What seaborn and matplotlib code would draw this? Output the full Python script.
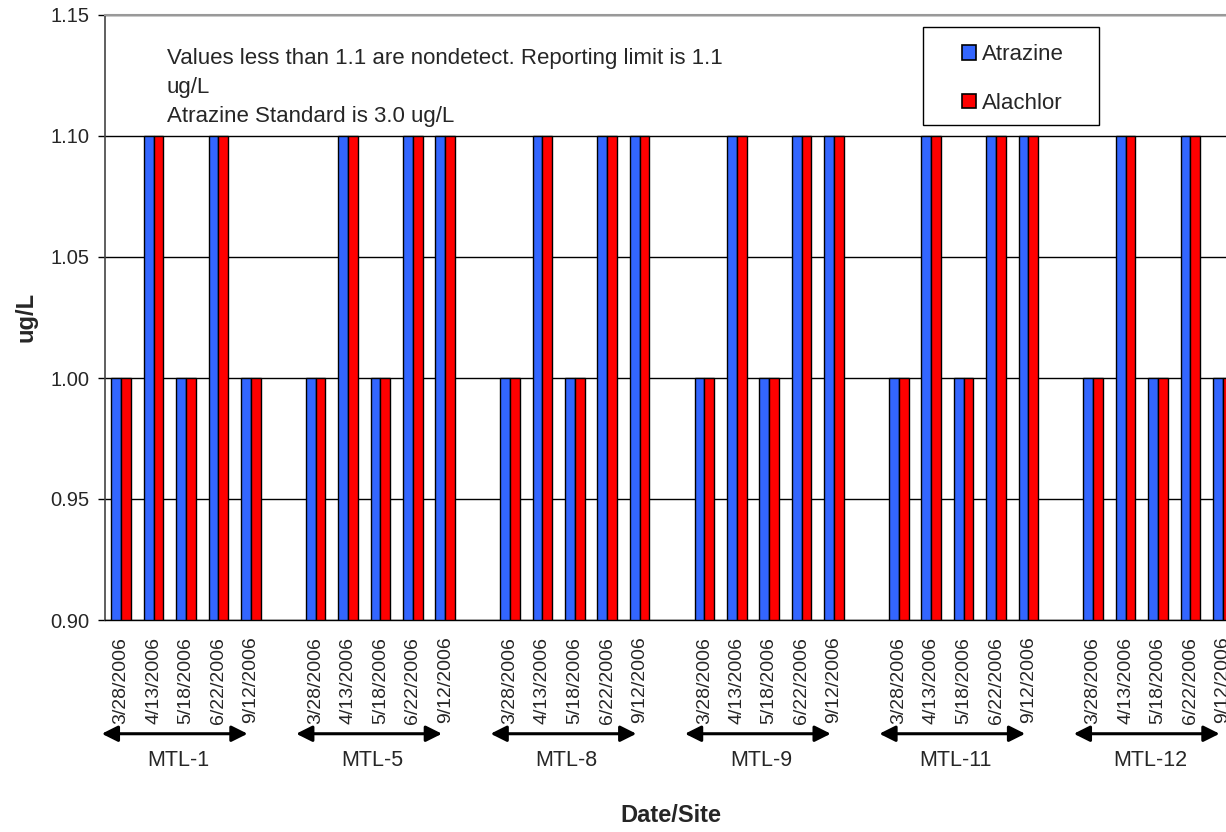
import matplotlib
matplotlib.use("Agg")
import matplotlib.pyplot as plt
import seaborn as sns
import pandas as pd
import numpy as np
from matplotlib.patches import Patch, Rectangle

sites = ["MTL-1", "MTL-5", "MTL-8", "MTL-9", "MTL-11", "MTL-12"]
dates = ["3/28/2006", "4/13/2006", "5/18/2006", "6/22/2006", "9/12/2006"]
atrazine = {
    "MTL-1": [1.0, 1.1, 1.0, 1.1, 1.0],
    "MTL-5": [1.0, 1.1, 1.0, 1.1, 1.1],
    "MTL-8": [1.0, 1.1, 1.0, 1.1, 1.1],
    "MTL-9": [1.0, 1.1, 1.0, 1.1, 1.1],
    "MTL-11": [1.0, 1.1, 1.0, 1.1, 1.1],
    "MTL-12": [1.0, 1.1, 1.0, 1.1, 1.0],
}
alachlor = {
    "MTL-1": [1.0, 1.1, 1.0, 1.1, 1.0],
    "MTL-5": [1.0, 1.1, 1.0, 1.1, 1.1],
    "MTL-8": [1.0, 1.1, 1.0, 1.1, 1.1],
    "MTL-9": [1.0, 1.1, 1.0, 1.1, 1.1],
    "MTL-11": [1.0, 1.1, 1.0, 1.1, 1.1],
    "MTL-12": [1.0, 1.1, 1.0, 1.1, 1.0],
}
series = ["Atrazine", "Alachlor"]
colors = ["#3366FF", "#FF0000"]
yticks = [0.90, 0.95, 1.00, 1.05, 1.10, 1.15]
note = "Values less than 1.1 are nondetect. Reporting limit is 1.1\nug/L\nAtrazine Standard is 3.0 ug/L"

rows = []
order = []
ticklabels = []
for si, s in enumerate(sites):
    for d, a, b in zip(dates, atrazine[s], alachlor[s]):
        key = f"{s}|{d}"
        order.append(key)
        ticklabels.append(d)
        rows.append({"slot": key, "compound": "Atrazine", "value": a})
        rows.append({"slot": key, "compound": "Alachlor", "value": b})
    if si < len(sites) - 1:
        order.append(f"gap{si}")
        ticklabels.append("")
df = pd.DataFrame(rows)

sns.set_style("white")
plt.rcParams["font.family"] = ["Liberation Sans", "DejaVu Sans"]

fig = plt.figure(figsize=(12.26, 8.32), dpi=100)
W, H = 1226, 832
ax = fig.add_axes([105 / W, 1 - 620 / H, 35 * 32.4 / W, 605 / H])

sns.barplot(data=df, x="slot", y="value", hue="compound", order=order,
            hue_order=series, palette=colors, width=0.6, edgecolor="black",
            linewidth=1.0, saturation=1, ax=ax, legend=False, errorbar=None)

ax.set_xlim(-0.5, len(order) - 0.5)
ax.set_ylim(0.90, 1.15)
ax.set_yticks(yticks)
ax.set_yticklabels([f"{v:.2f}" for v in yticks], fontsize=14.5)
ax.yaxis.grid(True, color="black", linewidth=1)
ax.set_axisbelow(True)

ax.set_xticks(range(len(order)))
ax.set_xticklabels(ticklabels, rotation=90, fontsize=14)
ax.set_xticks(np.arange(len(order) + 1) - 0.5, minor=True)
ax.tick_params(axis="x", which="major", length=0, pad=12)
ax.tick_params(axis="x", which="minor", length=5, width=1, color="black", direction="out")
ax.tick_params(axis="y", length=5, width=1, color="black", direction="out", left=True, pad=6)

for sp in ["top", "right"]:
    ax.spines[sp].set_color("#999999")
    ax.spines[sp].set_linewidth(1.5)
ax.spines["left"].set_color("#444444")
ax.spines["bottom"].set_color("black")
ax.spines["left"].set_linewidth(1.2)
ax.spines["bottom"].set_linewidth(1)

ax.set_xlabel("")
ax.set_ylabel("")
fig.text(26 / W, 1 - 317 / H, "ug/L", rotation=90, ha="center", va="center",
         fontsize=17, fontweight="bold")
fig.text(671 / W, 1 - 815 / H, "Date/Site", ha="center", va="center",
         fontsize=17, fontweight="bold")

# Site arrows and labels
trans = ax.get_xaxis_transform()
for si, s in enumerate(sites):
    start = si * 6
    x0, x1 = start - 0.6, start + 3.9
    ax.annotate("", xy=(x0, -0.188), xytext=(x1, -0.188), xycoords=trans,
                textcoords=trans,
                arrowprops=dict(arrowstyle="<|-|>", color="black", lw=2.2,
                                mutation_scale=24, shrinkA=0, shrinkB=0),
                annotation_clip=False)
    ax.text((x0 + x1) / 2 + 0.1, -0.232, s, transform=trans, ha="center",
            va="center", fontsize=15.5, clip_on=False)

fig.text(167 / W, 1 - 48 / H, note, ha="left", va="top", fontsize=16,
         linespacing=1.5)

# Legend with its frame box
fig.patches.append(Rectangle((923 / W, 1 - 125 / H), 176 / W, 98 / H,
                             transform=fig.transFigure, facecolor="white",
                             edgecolor="black", linewidth=1, zorder=5))
handles = [Patch(facecolor=c, edgecolor="black", linewidth=1.2, label=l)
           for c, l in zip(colors, series)]
leg = fig.legend(handles=handles, loc="upper left",
                 bbox_to_anchor=(962 / W, 1 - 44 / H), fontsize=16,
                 frameon=False, labelspacing=1.25, handlelength=0.65,
                 handleheight=0.65, handletextpad=0.25, borderpad=0,
                 borderaxespad=0)
leg.set_zorder(6)

fig.savefig("out.png", dpi=100)
